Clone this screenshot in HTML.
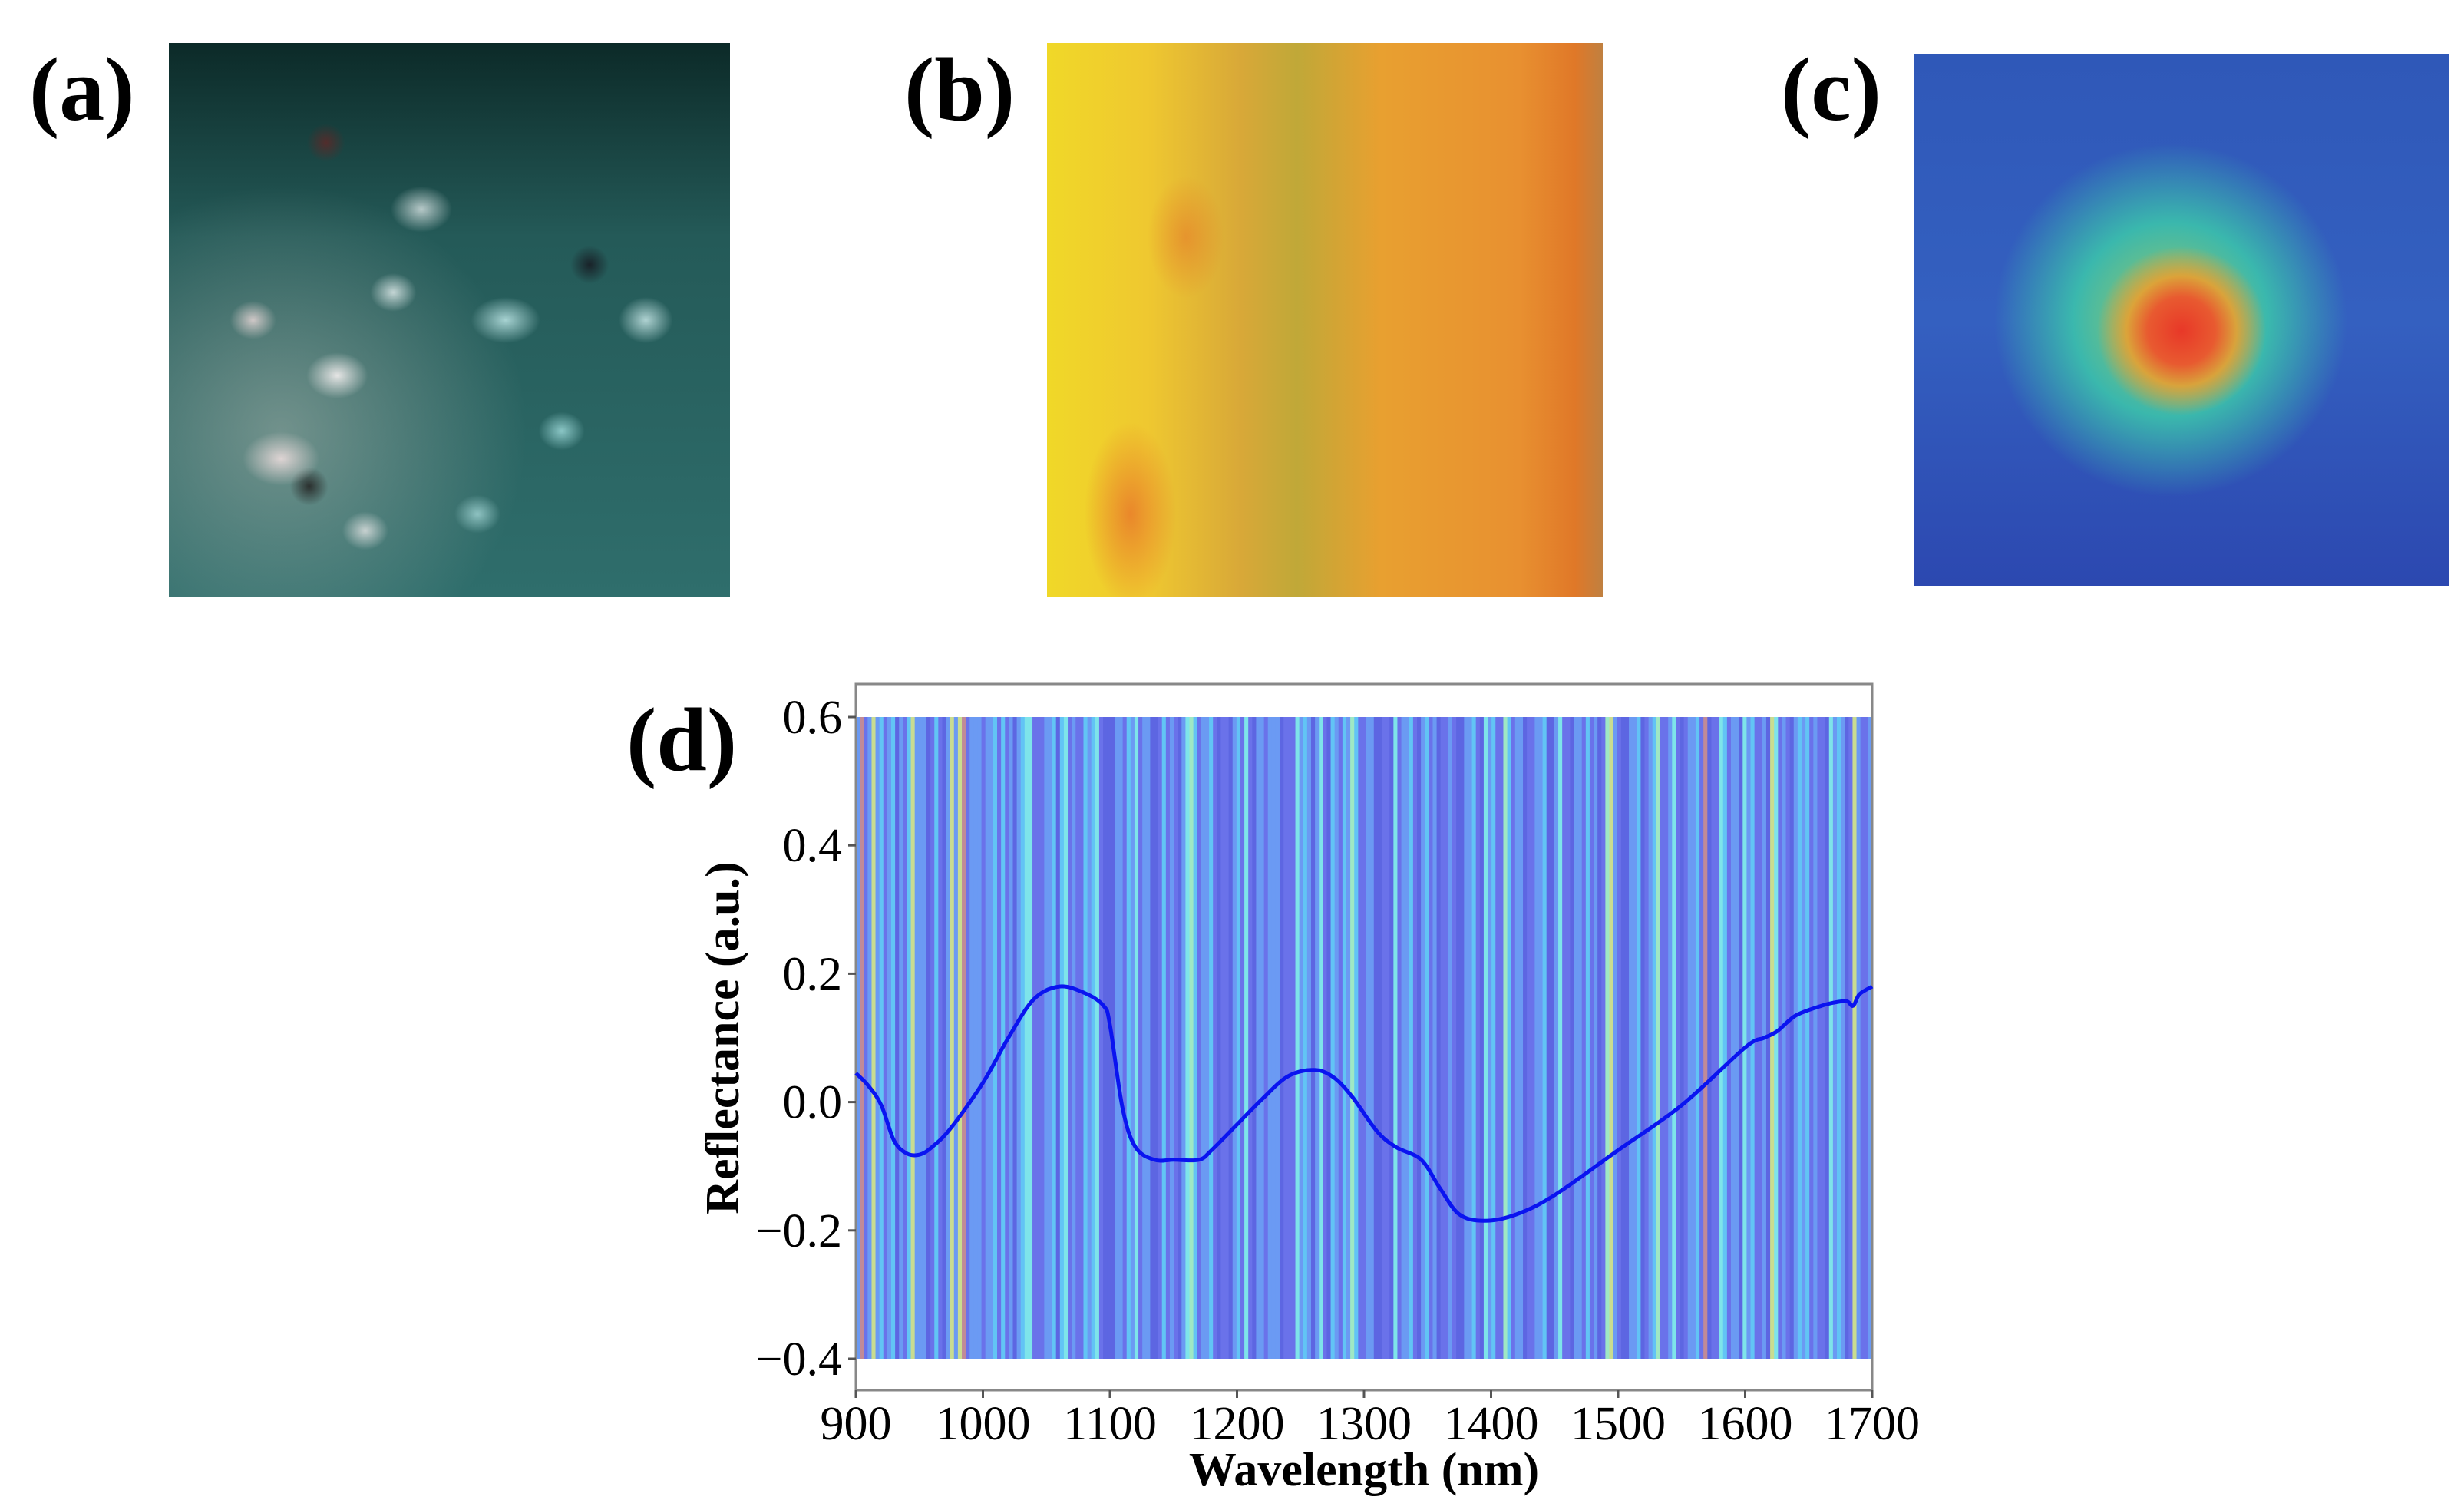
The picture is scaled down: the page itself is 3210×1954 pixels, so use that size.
<!DOCTYPE html>
<html><head><meta charset="utf-8">
<style>
html,body{margin:0;padding:0;background:#fff;}
body{width:3210px;height:1954px;position:relative;overflow:hidden;font-family:"Liberation Serif",serif;}
.lbl{position:absolute;font-weight:bold;font-size:118px;line-height:1;color:#000;}
.img{position:absolute;}
</style></head>
<body>
<div class="lbl" style="left:38px;top:58px;">(a)</div>
<div class="lbl" style="left:1178px;top:58px;">(b)</div>
<div class="lbl" style="left:2320px;top:58px;">(c)</div>
<div class="lbl" style="left:816px;top:905px;">(d)</div>

<div class="img" style="left:220px;top:56px;width:731px;height:722px;background:
radial-gradient(ellipse 40px 30px at 30% 60%,rgba(245,240,240,.9),transparent),
radial-gradient(ellipse 50px 35px at 20% 75%,rgba(235,220,220,.9),transparent),
radial-gradient(ellipse 40px 30px at 45% 30%,rgba(220,230,230,.8),transparent),
radial-gradient(ellipse 45px 30px at 60% 50%,rgba(200,240,240,.8),transparent),
radial-gradient(ellipse 35px 30px at 85% 50%,rgba(210,240,240,.8),transparent),
radial-gradient(ellipse 30px 25px at 40% 45%,rgba(230,240,240,.8),transparent),
radial-gradient(ellipse 30px 25px at 15% 50%,rgba(240,220,220,.8),transparent),
radial-gradient(ellipse 30px 25px at 70% 70%,rgba(180,240,240,.7),transparent),
radial-gradient(ellipse 30px 25px at 55% 85%,rgba(180,230,230,.7),transparent),
radial-gradient(ellipse 30px 25px at 35% 88%,rgba(230,230,230,.8),transparent),
radial-gradient(ellipse 25px 25px at 28% 18%,rgba(120,30,30,.6),transparent),
radial-gradient(ellipse 25px 25px at 75% 40%,rgba(20,10,20,.7),transparent),
radial-gradient(ellipse 25px 25px at 25% 80%,rgba(20,10,10,.7),transparent),
radial-gradient(ellipse 320px 320px at 20% 70%,rgba(200,200,190,.45),transparent),
linear-gradient(180deg,#0c2a28 0%,#245a58 35%,#2f6e6c 100%);"></div>

<div class="img" style="left:1364px;top:56px;width:724px;height:722px;background:
radial-gradient(ellipse 60px 120px at 15% 85%,rgba(230,90,40,.6),transparent),
radial-gradient(ellipse 50px 80px at 25% 35%,rgba(230,110,40,.5),transparent),
linear-gradient(90deg,#f0d828 0%,#efc830 18%,#d8a838 35%,#c0a838 45%,#e8a030 60%,#e89030 85%,#e07828 95%,#c08040 100%);"></div>

<div class="img" style="left:2494px;top:70px;width:696px;height:694px;background:
radial-gradient(ellipse 110px 110px at 50% 52%,#e83828 0%,#e85a30 40%,rgba(230,160,50,.9) 65%,transparent 100%),
radial-gradient(ellipse 230px 230px at 48% 50%,rgba(180,210,80,.9) 0%,rgba(60,200,170,.85) 55%,transparent 100%),
linear-gradient(180deg,#2f58b8,#3460c0 50%,#2c48b0);"></div>

<svg id="chart" style="position:absolute;left:0;top:0" width="3210" height="1954"></svg>

<script>
const xTicks=[900,1000,1100,1200,1300,1400,1500,1600,1700];
const yTicks=[-0.4,-0.2,0.0,0.2,0.4,0.6];
const yTickLabels=["\u22120.4","\u22120.2","0.0","0.2","0.4","0.6"];
const wavelengths=[900,910,920,930,940,950,960,975,1000,1020,1040,1060,1080,1095,1100,1110,1120,1135,1150,1170,1180,1200,1220,1240,1260,1275,1290,1310,1325,1345,1360,1375,1395,1420,1450,1500,1550,1600,1615,1625,1640,1660,1670,1680,1685,1690,1700];
const reflectance=[0.045,0.025,-0.005,-0.06,-0.08,-0.082,-0.07,-0.04,0.03,0.10,0.16,0.18,0.17,0.15,0.12,-0.01,-0.07,-0.09,-0.09,-0.09,-0.075,-0.035,0.005,0.04,0.05,0.04,0.01,-0.045,-0.07,-0.09,-0.135,-0.175,-0.185,-0.175,-0.145,-0.075,-0.005,0.085,0.10,0.11,0.135,0.15,0.155,0.157,0.15,0.168,0.18];
const bandClasses="1501412012610241116020614145011101120201612330001126230100212306661102130116602010613720112060061203061101116000312161306210217200116600630112061201600106611206312007201160011266130061102016074106611260127001306011205600320116312001643010612120100631216041001";
const bandColors=["#6a72ea","#6b9af3","#62c4f5","#7ee4ea","#c9dc90","#c08a98","#5d66e2","#9fe8c4"];

const svg=document.getElementById('chart');
const NS="http://www.w3.org/2000/svg";
const X0=1115,X1=2439,Y0=1811,YT=891;
const xs=v=>X0+(v-900)/(1700-900)*(X1-X0);
const ys=v=>1770+(v-(-0.4))/(0.6-(-0.4))*(934-1770);
function mk(t,a){const e=document.createElementNS(NS,t);for(const k in a)e.setAttribute(k,a[k]);svg.appendChild(e);return e;}

const nb=bandClasses.length;const bw=(X1-X0)/nb;
for(let i=0;i<nb;i++){
  const r=mk('rect',{x:X0+i*bw,y:ys(0.6),width:bw+0.6,height:ys(-0.4)-ys(0.6),fill:bandColors[+bandClasses[i]]});
  
  
}
const fr=mk('rect',{x:X0,y:YT,width:X1-X0,height:Y0-YT,fill:'none',stroke:'#888',"stroke-width":3});



const P=wavelengths.map((w,i)=>[xs(w),ys(reflectance[i])]);
let d="M"+P[0][0].toFixed(1)+","+P[0][1].toFixed(1);
for(let i=0;i<P.length-1;i++){
  const p0=P[Math.max(0,i-1)],p1=P[i],p2=P[i+1],p3=P[Math.min(P.length-1,i+2)];
  const c1=[p1[0]+(p2[0]-p0[0])/6,p1[1]+(p2[1]-p0[1])/6];
  const c2=[p2[0]-(p3[0]-p1[0])/6,p2[1]-(p3[1]-p1[1])/6];
  d+="C"+c1[0].toFixed(1)+","+c1[1].toFixed(1)+" "+c2[0].toFixed(1)+","+c2[1].toFixed(1)+" "+p2[0].toFixed(1)+","+p2[1].toFixed(1);
}
const ln=mk('path',{d:d,fill:'none',stroke:'#0a14f0',"stroke-width":5,"stroke-linejoin":"round"});



xTicks.forEach(v=>{
  const t=mk('line',{x1:xs(v),x2:xs(v),y1:Y0,y2:Y0+10,stroke:'#555',"stroke-width":3});
  
  
  const tx=mk('text',{x:xs(v),y:Y0+64,"text-anchor":"middle","font-family":"Liberation Serif, serif","font-size":62});
  tx.textContent=v;
  
  
});
yTicks.forEach((v,i)=>{
  const t=mk('line',{x1:X0-10,x2:X0,y1:ys(v),y2:ys(v),stroke:'#555',"stroke-width":3});
  
  
  const tx=mk('text',{x:X0-18,y:ys(v)+21,"text-anchor":"end","font-family":"Liberation Serif, serif","font-size":62});
  tx.textContent=yTickLabels[i];
  
  
});
const xl=mk('text',{x:(X0+X1)/2,y:1935,"text-anchor":"middle","font-family":"Liberation Serif, serif","font-size":62,"font-weight":"bold"});
xl.textContent="Wavelength (nm)";


const yl=mk('text',{x:0,y:0,"text-anchor":"middle","font-family":"Liberation Serif, serif","font-size":62,"font-weight":"bold",transform:"translate(962,1352) rotate(-90)"});
yl.textContent="Reflectance (a.u.)";


</script>
</body></html>
